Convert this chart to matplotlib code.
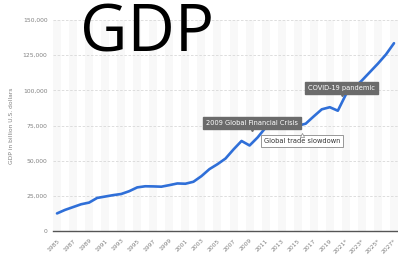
import numpy as np
import matplotlib.pyplot as plt

years = np.arange(1985, 2028)
gdp = [12500, 15000, 17000, 19000, 20200, 23500, 24500, 25500, 26300, 28300,
       31000, 31800, 31700, 31500, 32600, 33800, 33600, 35000, 39000, 44000,
       47500, 51500, 58000, 64000, 60800, 66500, 73500, 74500, 76500, 78500,
       74800, 76300, 81500, 86500, 88000, 85500, 97000, 101500, 107000, 113000,
       119000, 125500, 133500]
tick_years = list(range(1985, 2028, 2))
tick_labels = [str(y) + ('*' if y > 2020 else '') for y in tick_years]
y_ticks = [0, 25000, 50000, 75000, 100000, 125000, 150000]

fig = plt.figure(figsize=(3.98, 2.6), dpi=100)
ax = fig.add_axes([53 / 398, 1 - 231 / 260, 345 / 398, 211 / 260])

for y in years[::2]:
    ax.axvspan(y - 0.5, y + 0.5, color='#f8f8f8', lw=0, zorder=0)

ax.plot(years, gdp, color='#2f6fd8', lw=1.9, solid_capstyle='round',
        solid_joinstyle='round', zorder=3)

ax.set_xlim(1984.5, 2027.5)
ax.set_ylim(0, 150000)
ax.set_yticks(y_ticks)
ax.set_yticklabels([f'{v:,}' for v in y_ticks], fontsize=4.3, color='#808080')
ax.set_xticks(tick_years)
ax.set_xticklabels(tick_labels, rotation=45, ha='right', rotation_mode='anchor',
                   fontsize=4.3, color='#808080')
ax.tick_params(length=0, pad=4)
ax.tick_params(axis='x', pad=5)
ax.grid(axis='y', color='#d8d8d8', ls=(0, (3, 2)), lw=0.6)
for s in ['top', 'right', 'left']:
    ax.spines[s].set_visible(False)
ax.spines['bottom'].set_color('#555555')
ax.spines['bottom'].set_linewidth(1.0)
ax.set_ylabel('GDP in billion U.S. dollars', fontsize=4.3, color='#808080', labelpad=6)

# annotations
dark = dict(boxstyle='square,pad=0.45', fc='#6b6b6b', ec='#6b6b6b')
ax.text(2009.3, 77000, '2009 Global Financial Crisis', fontsize=4.8, color='white',
        ha='center', va='center', bbox=dark, zorder=5)
ax.plot([2009.3], [72600], marker='v', ms=3, color='#6b6b6b', zorder=5)
ax.text(2020.5, 102000, 'COVID-19 pandemic', fontsize=4.8, color='white',
        ha='center', va='center', bbox=dark, zorder=5)
ax.plot([2020.5], [97700], marker='v', ms=3, color='#6b6b6b', zorder=5)
ax.text(2015.5, 63800, 'Global trade slowdown', fontsize=4.8, color='#333333',
        ha='center', va='center', zorder=5,
        bbox=dict(boxstyle='square,pad=0.45', fc='white', ec='#888888', lw=0.6))
ax.plot([2015.5], [68100], marker='^', ms=3, color='white', mec='#888888', mew=0.5, zorder=6)

fig.text(80 / 398, 1 - 35 / 260, 'GDP', fontsize=47, family='Open Sans',
         color='black', ha='left', va='center')

fig.savefig('out.png', dpi=100)
